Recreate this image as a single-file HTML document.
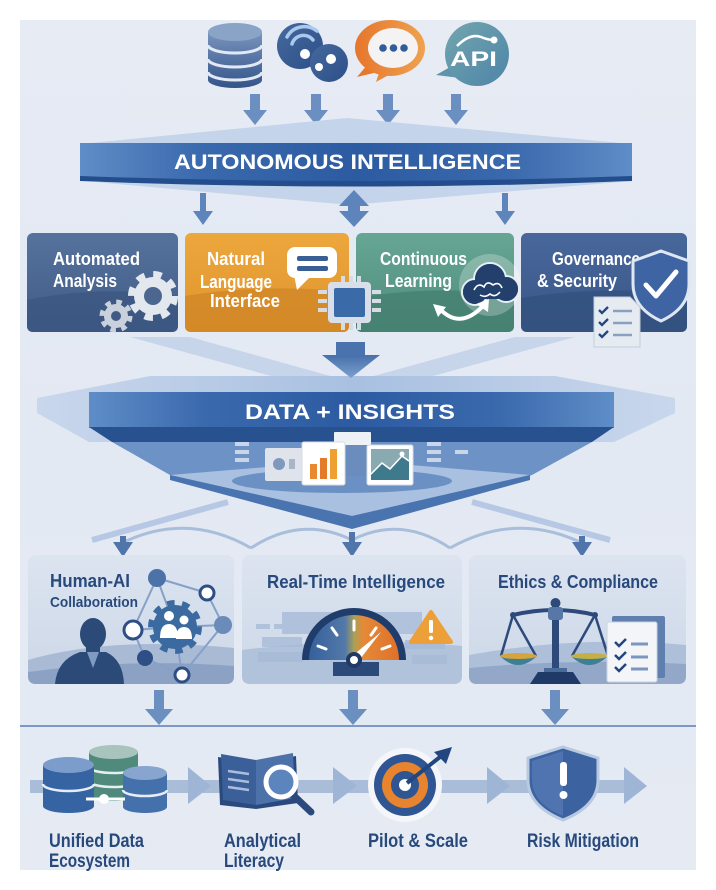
<!DOCTYPE html>
<html><head><meta charset="utf-8"><style>
html,body{margin:0;padding:0;background:#fff;}
svg{display:block;}
text{font-family:"Liberation Sans","DejaVu Sans",sans-serif;}
</style></head><body>
<svg width="716" height="890" viewBox="0 0 716 890" xmlns="http://www.w3.org/2000/svg">
<defs>
<linearGradient id="bg" x1="0" y1="0" x2="0" y2="1"><stop offset="0" stop-color="#e6ebf4"/><stop offset="0.5" stop-color="#e3e9f3"/><stop offset="1" stop-color="#e5eaf3"/></linearGradient>
<linearGradient id="ban" x1="0" y1="0" x2="1" y2="0"><stop offset="0" stop-color="#5f8dc7"/><stop offset="0.22" stop-color="#3a69ad"/><stop offset="0.5" stop-color="#2c5ba2"/><stop offset="0.78" stop-color="#3a69ad"/><stop offset="1" stop-color="#5f8dc7"/></linearGradient>
<linearGradient id="db" x1="0" y1="0" x2="0" y2="1"><stop offset="0" stop-color="#7894bd"/><stop offset="1" stop-color="#34548a"/></linearGradient>
<linearGradient id="wifi" x1="0" y1="0" x2="1" y2="1"><stop offset="0" stop-color="#46699e"/><stop offset="1" stop-color="#2c4f88"/></linearGradient>
<linearGradient id="org" x1="0" y1="0" x2="1" y2="0"><stop offset="0" stop-color="#e6762c"/><stop offset="1" stop-color="#eea250"/></linearGradient>
<linearGradient id="api" x1="0" y1="0" x2="1" y2="1"><stop offset="0" stop-color="#72a6ad"/><stop offset="1" stop-color="#4e84a9"/></linearGradient>
<linearGradient id="c1" x1="0" y1="0" x2="0" y2="1"><stop offset="0" stop-color="#56739d"/><stop offset="1" stop-color="#3f5b86"/></linearGradient>
<linearGradient id="c2" x1="0" y1="0" x2="0" y2="1"><stop offset="0" stop-color="#eca73d"/><stop offset="1" stop-color="#df942c"/></linearGradient>
<linearGradient id="c3" x1="0" y1="0" x2="0" y2="1"><stop offset="0" stop-color="#67a694"/><stop offset="1" stop-color="#4e8c7b"/></linearGradient>
<linearGradient id="c4" x1="0" y1="0" x2="0" y2="1"><stop offset="0" stop-color="#48679b"/><stop offset="1" stop-color="#3a5687"/></linearGradient>
<linearGradient id="lc" x1="0" y1="0" x2="0" y2="1"><stop offset="0" stop-color="#dce4f0"/><stop offset="1" stop-color="#ccd7e7"/></linearGradient>
<linearGradient id="arr" x1="0" y1="0" x2="0" y2="1"><stop offset="0" stop-color="#4670ab"/><stop offset="1" stop-color="#7d9fcd"/></linearGradient>
<linearGradient id="gauge" x1="0" y1="0" x2="1" y2="0"><stop offset="0" stop-color="#36609c"/><stop offset="0.4" stop-color="#5279a9"/><stop offset="0.5" stop-color="#a9a058"/><stop offset="0.6" stop-color="#e48a38"/><stop offset="1" stop-color="#e0702a"/></linearGradient>
<linearGradient id="wing" x1="0" y1="0" x2="1" y2="0"><stop offset="0" stop-color="#c9d7ec"/><stop offset="0.5" stop-color="#a9c0e1"/><stop offset="1" stop-color="#c9d7ec"/></linearGradient>
</defs>

<!-- panel -->
<rect x="20" y="20" width="676" height="850" fill="url(#bg)"/>

<!-- ===== TOP ICONS ===== -->
<!-- database -->
<g>
<path d="M208,32 V80 A27,8 0 0 0 262,80 V32 Z" fill="url(#db)"/>
<ellipse cx="235" cy="32" rx="27" ry="9" fill="#8aa4c8"/>
<path d="M208,45 A27,8 0 0 0 262,45" fill="none" stroke="#e2e9f3" stroke-width="3"/>
<path d="M208,59 A27,8 0 0 0 262,59" fill="none" stroke="#e2e9f3" stroke-width="3"/>
<path d="M208,72 A27,8 0 0 0 262,72" fill="none" stroke="#e2e9f3" stroke-width="3"/>
</g>
<!-- wifi bubble -->
<g>
<circle cx="300" cy="46" r="23" fill="url(#wifi)"/>
<circle cx="329" cy="63" r="19" fill="url(#wifi)"/>
<path d="M292,44 A12,12 0 0 1 313,40" fill="none" stroke="#a9c9ee" stroke-width="3.5" stroke-linecap="round"/>
<path d="M287,37 A20,20 0 0 1 317,31" fill="none" stroke="#a9c9ee" stroke-width="3.5" stroke-linecap="round"/>
<circle cx="305" cy="54" r="5" fill="#fff"/>
<circle cx="331" cy="59" r="5" fill="#fff"/>
<circle cx="319" cy="67" r="4" fill="#fff"/>
</g>
<!-- orange chat -->
<g>
<polygon points="368,64 357,77 382,71" fill="#e6782c"/>
<polygon points="380,70 376,82 394,72" fill="#e98a3a"/>
<ellipse cx="390" cy="48" rx="35" ry="28" fill="url(#org)"/>
<ellipse cx="393" cy="48" rx="25" ry="20" fill="#f5f2f4"/>
<circle cx="383" cy="48" r="3.8" fill="#2f5d9a"/>
<circle cx="393.5" cy="48" r="3.8" fill="#2f5d9a"/>
<circle cx="404" cy="48" r="3.8" fill="#2f5d9a"/>
</g>
<!-- API -->
<g>
<polygon points="452,66 436,75 460,78" fill="#5f93ab"/>
<circle cx="477" cy="54" r="32" fill="url(#api)"/>
<path d="M457,46 Q470,33 481,37 Q488,40 494,40" fill="none" stroke="#fff" stroke-width="2.5"/>
<circle cx="494" cy="40" r="3.5" fill="#fff"/>
<text x="450" y="66" font-size="21" font-weight="bold" fill="#fff" textLength="47" lengthAdjust="spacingAndGlyphs">API</text>
</g>
<!-- top arrows -->
<g fill="#6a8fc0">
<rect x="250" y="94" width="10" height="17"/><polygon points="243,110 267,110 255,125"/>
<rect x="311" y="94" width="10" height="17"/><polygon points="304,110 328,110 316,125"/>
<rect x="383" y="94" width="10" height="17"/><polygon points="376,110 400,110 388,125"/>
<rect x="451" y="94" width="10" height="17"/><polygon points="444,110 468,110 456,125"/>
</g>

<!-- ===== AUTONOMOUS banner ===== -->
<polygon points="80,144 347,118 632,144" fill="#c4d4ea"/>
<polygon points="95,182 620,182 350,205" fill="#c4d4ea"/>
<path d="M80,143 H632 V178 Q356,188 80,178 Z" fill="url(#ban)"/>
<path d="M80,176 Q356,186 632,176 V181 Q356,192 80,181 Z" fill="#234d8c"/>
<text x="174" y="169" font-size="21" font-weight="bold" fill="#fff" textLength="347" lengthAdjust="spacingAndGlyphs">AUTONOMOUS INTELLIGENCE</text>

<!-- arrows below banner -->
<g fill="#5d84bb">
<rect x="200" y="193" width="6" height="20"/><polygon points="193,211 213,211 203,225"/>
<rect x="502" y="193" width="6" height="20"/><polygon points="495,211 515,211 505,225"/>
<polygon points="339,206 369,206 354,190"/>
<rect x="348" y="205" width="12" height="8"/>
<polygon points="339,211 369,211 354,227"/>
</g>

<!-- ===== FOUR CARDS ===== -->
<rect x="27" y="233" width="151" height="99" rx="6" fill="url(#c1)"/>
<path d="M27,300 Q100,285 178,296 V326 Q178,332 172,332 H33 Q27,332 27,326 Z" fill="#3a557f" opacity="0.7"/>
<rect x="185" y="233" width="164" height="99" rx="6" fill="url(#c2)"/>
<path d="M185,296 Q265,283 349,292 V326 Q349,332 343,332 H191 Q185,332 185,326 Z" fill="#cf8525" opacity="0.7"/>
<rect x="356" y="233" width="158" height="99" rx="6" fill="url(#c3)"/>
<path d="M356,298 Q430,285 514,294 V326 Q514,332 508,332 H362 Q356,332 356,326 Z" fill="#437e6e" opacity="0.7"/>
<rect x="521" y="233" width="166" height="99" rx="6" fill="url(#c4)"/>
<path d="M521,298 Q600,285 687,294 V326 Q687,332 681,332 H527 Q521,332 521,326 Z" fill="#32507c" opacity="0.7"/>

<g font-weight="bold" fill="#fff" font-size="18">
<text x="53" y="265" textLength="87" lengthAdjust="spacingAndGlyphs">Automated</text>
<text x="53" y="287" textLength="64" lengthAdjust="spacingAndGlyphs">Analysis</text>
<text x="207" y="265" textLength="58" lengthAdjust="spacingAndGlyphs">Natural</text>
<text x="200" y="288" textLength="72" lengthAdjust="spacingAndGlyphs">Language</text>
<text x="210" y="307" textLength="70" lengthAdjust="spacingAndGlyphs">Interface</text>
<text x="380" y="265" textLength="87" lengthAdjust="spacingAndGlyphs">Continuous</text>
<text x="385" y="287" textLength="67" lengthAdjust="spacingAndGlyphs">Learning</text>
<text x="552" y="265" textLength="88" lengthAdjust="spacingAndGlyphs">Governance</text>
<text x="537" y="287" textLength="80" lengthAdjust="spacingAndGlyphs">&amp; Security</text>
</g>

<!-- gears -->
<g>
<circle cx="153" cy="296" r="19" fill="#e3e8ef"/>
<circle cx="153" cy="296" r="21" fill="none" stroke="#e3e8ef" stroke-width="8" stroke-dasharray="8.25 8.25"/>
<circle cx="153" cy="296" r="9" fill="#4b6790"/>
<circle cx="116" cy="316" r="12" fill="#c9d1dc"/>
<circle cx="116" cy="316" r="13.5" fill="none" stroke="#c9d1dc" stroke-width="6" stroke-dasharray="5.3 5.3"/>
<circle cx="116" cy="316" r="5" fill="#3f5a84"/>
</g>
<!-- speech bubble -->
<g>
<polygon points="294,275 297,290 310,277" fill="#fff"/>
<rect x="287" y="247" width="50" height="31" rx="8" fill="#fff"/>
<rect x="297" y="256" width="31" height="5" rx="2" fill="#3a5f94"/>
<rect x="297" y="266" width="31" height="5" rx="2" fill="#3a5f94"/>
</g>
<!-- chip -->
<g>
<g fill="#d5dce6">
<rect x="318" y="290" width="9" height="4"/><rect x="318" y="299" width="9" height="4"/><rect x="318" y="308" width="9" height="4"/>
<rect x="372" y="290" width="9" height="4"/><rect x="372" y="299" width="9" height="4"/><rect x="372" y="308" width="9" height="4"/>
<rect x="341" y="276" width="4" height="7"/><rect x="349" y="276" width="4" height="7"/><rect x="357" y="276" width="4" height="7"/>
<rect x="341" y="322" width="4" height="8"/><rect x="349" y="322" width="4" height="8"/><rect x="357" y="322" width="4" height="8"/>
</g>
<rect x="328" y="282" width="43" height="41" rx="4" fill="#d9dfe8"/>
<rect x="334" y="288" width="31" height="29" rx="2" fill="#3a6aa8"/>
</g>
<!-- cloud brain -->
<g>
<circle cx="490" cy="285" r="31" fill="#ffffff" opacity="0.25"/>
<g fill="#23406d" stroke="#e6eef6" stroke-width="2">
<circle cx="475" cy="292" r="13"/>
<circle cx="506" cy="289" r="13"/>
<circle cx="490" cy="279" r="16"/>
</g>
<circle cx="475" cy="292" r="12" fill="#23406d"/>
<circle cx="506" cy="289" r="12" fill="#23406d"/>
<circle cx="490" cy="279" r="15" fill="#23406d"/>
<rect x="468" y="285" width="44" height="14" fill="#23406d"/>
<path d="M474,290 q4,-8 10,-3 q3,-7 9,-2 q6,-4 9,3 M480,295 q5,3 10,-1 q5,4 10,-2" fill="none" stroke="#fff" stroke-width="1.6"/>
</g>
<!-- curved arrow -->
<g>
<path d="M440,309 Q460,330 483,306" fill="none" stroke="#fff" stroke-width="4"/>
<polygon points="489,299 476,304 488,312" fill="#fff"/>
<polygon points="433,304 446,307 438,317" fill="#fff"/>
</g>
<!-- shield -->
<g>
<path d="M661,251 L689,261 V284 Q689,308 661,321 Q633,308 633,284 V261 Z" fill="#3e64a3" stroke="#dfe7f3" stroke-width="3"/>
<path d="M646,285 L656,296 L676,272" fill="none" stroke="#fff" stroke-width="5" stroke-linecap="round" stroke-linejoin="round"/>
</g>
<!-- doc -->
<g>
<path d="M594,297 H630 L640,307 V347 H594 Z" fill="#e6ebf2" stroke="#c2ccd9"/>
<g fill="none" stroke="#23467e" stroke-width="2.3">
<path d="M599,310 l3,3 l6,-6"/><path d="M599,322 l3,3 l6,-6"/><path d="M599,334 l3,3 l6,-6"/>
</g>
<g stroke="#8aa0c0" stroke-width="2.5"><line x1="613" y1="311" x2="632" y2="311"/><line x1="613" y1="323" x2="632" y2="323"/><line x1="613" y1="335" x2="632" y2="335"/></g>
</g>

<!-- ===== DATA + INSIGHTS ===== -->
<polygon points="130,337 190,337 352,382 300,384" fill="#c3d3ea" opacity="0.9"/>
<polygon points="575,337 515,337 352,382 404,384" fill="#c3d3ea" opacity="0.9"/>
<polygon points="37,398 150,376 555,376 675,398 675,413 614,442 89,442 37,413" fill="url(#wing)"/>
<rect x="336" y="342" width="29" height="14" fill="#4a73ad"/>
<polygon points="322,355 380,355 351,378" fill="url(#arr)"/>
<rect x="89" y="392" width="525" height="36" fill="url(#ban)"/>
<polygon points="89,427 614,427 592,442 112,442" fill="#28528f"/>
<polygon points="112,442 592,442 532,475 352,528 170,475" fill="#6d92c6"/>
<polygon points="170,475 352,460 530,475 352,516" fill="#a9c0e1"/>
<ellipse cx="342" cy="481" rx="110" ry="12" fill="#5b84bd" opacity="0.8"/>
<polygon points="170,475 352,516 530,475 530,480 352,529 170,480" fill="#4a74b0"/>
<text x="245" y="419" font-size="21" font-weight="bold" fill="#fff" textLength="210" lengthAdjust="spacingAndGlyphs">DATA + INSIGHTS</text>
<!-- dashes -->
<g fill="#c9d6ea">
<rect x="235" y="442" width="14" height="4"/><rect x="235" y="450" width="14" height="4"/><rect x="235" y="458" width="14" height="4"/>
<rect x="427" y="442" width="14" height="4"/><rect x="427" y="450" width="14" height="4"/><rect x="427" y="458" width="14" height="4"/>
<rect x="455" y="450" width="13" height="4"/>
</g>
<!-- dashboard cards -->
<rect x="337" y="444" width="32" height="32" fill="#6a8dbd"/>
<rect x="334" y="432" width="37" height="13" rx="1" fill="#eef2f7"/>
<rect x="265" y="448" width="38" height="33" rx="2" fill="#dfe4ec"/>
<circle cx="279" cy="464" r="6" fill="#7f98bd"/>
<rect x="289" y="459" width="6" height="10" fill="#a9b6c9"/>
<rect x="302" y="442" width="43" height="43" rx="2" fill="#fff" stroke="#d5dce7"/>
<rect x="310" y="464" width="7" height="15" fill="#e8892e"/>
<rect x="320" y="458" width="7" height="21" fill="#e57a2a"/>
<rect x="330" y="449" width="7" height="30" fill="#f0a030"/>
<rect x="367" y="445" width="46" height="40" rx="2" fill="#fff" stroke="#d5dce7"/>
<rect x="371" y="449" width="38" height="31" fill="#8aaab2"/>
<path d="M371,475 L382,464 L390,470 L402,457 L409,462 V480 H371 Z" fill="#3f7a8c"/>
<path d="M371,474 L382,463 L390,469 L402,456 L409,461" fill="none" stroke="#fff" stroke-width="1.5"/>
<circle cx="402" cy="454" r="2.5" fill="#fff"/>

<!-- rays & arcs -->
<line x1="228" y1="502" x2="92" y2="540" stroke="#b6c8e3" stroke-width="6"/>
<line x1="472" y1="502" x2="610" y2="540" stroke="#b6c8e3" stroke-width="6"/>
<g fill="none" stroke="#a9bedb" stroke-width="3">
<path d="M118,545 Q185,510 251,548"/>
<path d="M251,548 Q301,515 352,540"/>
<path d="M352,540 Q401,515 450,548"/>
<path d="M450,548 Q518,510 586,545"/>
</g>
<g fill="#4f75aa">
<polygon points="113,542 133,542 123,557"/><rect x="120" y="536" width="6" height="8"/>
<polygon points="342,542 362,542 352,557"/><rect x="349" y="532" width="6" height="12"/>
<polygon points="572,542 592,542 582,557"/><rect x="579" y="536" width="6" height="8"/>
</g>

<!-- ===== THREE LOWER CARDS ===== -->
<rect x="28" y="555" width="206" height="129" rx="8" fill="url(#lc)"/>
<rect x="242" y="555" width="220" height="129" rx="8" fill="url(#lc)"/>
<rect x="469" y="555" width="217" height="129" rx="8" fill="url(#lc)"/>
<path d="M28,660 Q110,636 234,648 V676 Q234,684 226,684 H36 Q28,684 28,676 Z" fill="#a9bad5"/>
<path d="M28,672 Q130,658 234,666 V676 Q234,684 226,684 H36 Q28,684 28,676 Z" fill="#8ca2c5"/>
<path d="M242,650 Q350,636 462,646 V676 Q462,684 454,684 H250 Q242,684 242,676 Z" fill="#b1c2db"/>
<path d="M469,655 Q580,635 686,645 V676 Q686,684 678,684 H477 Q469,684 469,676 Z" fill="#aebfd9"/>
<path d="M469,668 Q580,658 686,664 V676 Q686,684 678,684 H477 Q469,684 469,676 Z" fill="#93a8c9"/>

<g fill="#28497c" font-weight="bold">
<text x="50" y="587" font-size="18" textLength="80" lengthAdjust="spacingAndGlyphs">Human-AI</text>
<text x="50" y="607" font-size="15" textLength="88" lengthAdjust="spacingAndGlyphs">Collaboration</text>
<text x="267" y="588" font-size="18" textLength="178" lengthAdjust="spacingAndGlyphs">Real-Time Intelligence</text>
<text x="498" y="588" font-size="18" textLength="160" lengthAdjust="spacingAndGlyphs">Ethics &amp; Compliance</text>
</g>

<!-- person -->
<g fill="#2c4a78">
<ellipse cx="93" cy="634" rx="13" ry="16"/>
<rect x="86" y="645" width="14" height="10"/>
<path d="M55,684 Q57,660 80,652 L106,652 Q123,660 124,684 Z"/>
</g>
<polygon points="87,652 99,652 93,668" fill="#7f9bc3"/>
<!-- network -->
<g stroke="#86a0c8" stroke-width="2" fill="none">
<path d="M157,578 L207,593 L223,625 L182,675 L145,658 L133,630 Z"/>
<path d="M157,578 L175,627 M133,630 L175,627 L223,625 M175,627 L182,675"/>
</g>
<circle cx="175" cy="627" r="22" fill="#3a6aa0"/>
<circle cx="175" cy="627" r="24" fill="none" stroke="#3a6aa0" stroke-width="6" stroke-dasharray="7.5 7.5"/>
<g fill="#fff">
<circle cx="169" cy="616" r="5"/><path d="M160,638 Q160,624 169,624 Q178,624 178,638 Z"/>
<circle cx="184" cy="620" r="4.5"/><path d="M176,639 Q176,627 184,627 Q192,627 192,639 Z"/>
</g>
<circle cx="157" cy="578" r="9" fill="#4d72a8"/>
<circle cx="207" cy="593" r="7" fill="#fff" stroke="#2d4f85" stroke-width="3"/>
<circle cx="223" cy="625" r="9" fill="#6b8bba"/>
<circle cx="133" cy="630" r="9" fill="#fff" stroke="#2d4f85" stroke-width="3"/>
<circle cx="145" cy="658" r="8" fill="#2d4f85"/>
<circle cx="182" cy="675" r="7" fill="#fff" stroke="#2d4f85" stroke-width="3"/>

<!-- card2 background blocks -->
<g fill="#a7bbd8" opacity="0.8">
<rect x="282" y="612" width="140" height="22"/>
<rect x="256" y="624" width="14" height="5"/><rect x="274" y="624" width="10" height="5"/>
<rect x="262" y="637" width="40" height="10"/>
<rect x="258" y="652" width="45" height="10"/>
<rect x="405" y="640" width="40" height="9"/>
<rect x="412" y="655" width="35" height="9"/>
</g>
<!-- gauge -->
<rect x="333" y="662" width="46" height="14" fill="#2b4a7a"/>
<path d="M302,660 A52,52 0 0 1 406,660 Z" fill="#203c6b"/>
<path d="M309,660 A45,45 0 0 1 399,660 Z" fill="url(#gauge)"/>
<g stroke="#fff" stroke-width="3" stroke-linecap="round">
<line x1="326" y1="649" x2="318" y2="646"/>
<line x1="337" y1="635" x2="332" y2="628"/>
<line x1="354" y1="630" x2="354" y2="621"/>
<line x1="371" y1="635" x2="376" y2="628"/>
<line x1="382" y1="649" x2="390" y2="646"/>
</g>
<polygon points="381,632 357,663 351,657" fill="#fff"/>
<circle cx="354" cy="660" r="8" fill="#1f3a66"/>
<circle cx="354" cy="660" r="4" fill="#fff"/>
<!-- warning -->
<polygon points="431,612 451,642 411,642" fill="#eda03a" stroke="#eda03a" stroke-width="4" stroke-linejoin="round"/>
<rect x="429" y="620" width="4" height="13" rx="1.5" fill="#fff"/>
<circle cx="431" cy="638" r="2.2" fill="#fff"/>

<!-- scale -->
<g>
<rect x="552" y="606" width="7" height="66" fill="#2d4a7a"/>
<circle cx="555.5" cy="603" r="5" fill="#2d4a7a"/>
<path d="M513,615 Q555,605 595,615" fill="none" stroke="#2d4a7a" stroke-width="4"/>
<circle cx="513" cy="615" r="3" fill="#2d4a7a"/><circle cx="595" cy="615" r="3" fill="#2d4a7a"/>
<rect x="548" y="607" width="15" height="13" rx="3" fill="#5876a6"/>
<g stroke="#2d4a7a" stroke-width="2.5">
<line x1="513" y1="615" x2="501" y2="656"/><line x1="513" y1="615" x2="536" y2="656"/>
<line x1="595" y1="615" x2="572" y2="656"/><line x1="595" y1="615" x2="608" y2="656"/>
</g>
<path d="M500,656 Q518,674 537,656 Z" fill="#3d7f95"/>
<ellipse cx="518.5" cy="656" rx="18.5" ry="3" fill="#d6a43a"/>
<path d="M571,656 Q589,674 608,656 Z" fill="#3d7f95"/>
<ellipse cx="589.5" cy="656" rx="18.5" ry="3" fill="#c5b045"/>
<rect x="544" y="668" width="23" height="5" fill="#4a6a9a"/>
<polygon points="538,672 573,672 581,684 530,684" fill="#1f3a66"/>
</g>
<!-- doc card3 -->
<rect x="612" y="616" width="53" height="62" rx="2" fill="#5f7fae"/>
<rect x="607" y="622" width="50" height="60" rx="2" fill="#f3f5f9" stroke="#c9d3e2"/>
<g fill="none" stroke="#23467e" stroke-width="2.5">
<path d="M615,642 l4,4 l7,-7"/><path d="M615,655 l4,4 l7,-7"/><path d="M615,667 l4,4 l7,-7"/>
</g>
<g stroke="#7d96bd" stroke-width="3"><line x1="631" y1="644" x2="648" y2="644"/><line x1="631" y1="657" x2="648" y2="657"/><line x1="631" y1="669" x2="648" y2="669"/></g>

<!-- arrows to bottom -->
<g fill="#6a8fc0">
<rect x="154" y="690" width="10" height="20"/><polygon points="145,709 173,709 159,725"/>
<rect x="348" y="690" width="10" height="20"/><polygon points="339,709 367,709 353,725"/>
<rect x="550" y="690" width="10" height="20"/><polygon points="541,709 569,709 555,725"/>
</g>
<line x1="20" y1="726" x2="696" y2="726" stroke="#7b99c4" stroke-width="2"/>

<!-- ===== BOTTOM FLOW ===== -->
<rect x="30" y="780" width="600" height="13" fill="#a9bdd9"/>
<g fill="#9fb5d6">
<polygon points="188,767 211,786 188,804"/>
<polygon points="333,767 357,786 333,804"/>
<polygon points="487,767 510,786 487,804"/>
<polygon points="624,767 647,786 624,804"/>
</g>
<!-- db stack -->
<g>
<path d="M89,752 V795 A24.5,6 0 0 0 138,795 V752 Z" fill="#4f8a7c"/>
<ellipse cx="113.5" cy="752" rx="24.5" ry="7" fill="#a9c4bd"/>
<path d="M89,767 A24.5,6 0 0 0 138,767" fill="none" stroke="#e6eef0" stroke-width="2.5"/>
<path d="M89,781 A24.5,6 0 0 0 138,781" fill="none" stroke="#e6eef0" stroke-width="2.5"/>
<path d="M43,765 V806 A25.5,7 0 0 0 94,806 V765 Z" fill="#3664a3"/>
<ellipse cx="68.5" cy="765" rx="25.5" ry="8" fill="#7c9ccc"/>
<path d="M43,784 A25.5,7 0 0 0 94,784" fill="none" stroke="#e6edf6" stroke-width="2.5"/>
<path d="M123,773 V807 A22,6 0 0 0 167,807 V773 Z" fill="#4470ab"/>
<ellipse cx="145" cy="773" rx="22" ry="7" fill="#87a5cf"/>
<path d="M123,790 A22,6 0 0 0 167,790" fill="none" stroke="#e6edf6" stroke-width="2.5"/>
<line x1="86" y1="799" x2="125" y2="799" stroke="#fff" stroke-width="3"/>
<circle cx="104" cy="799" r="5" fill="#fff"/>
</g>
<!-- book -->
<g>
<polygon points="218,757 256,763 256,809 220,805" fill="#2a4a7e"/>
<polygon points="256,763 296,756 298,803 256,809" fill="#2a4a7e"/>
<polygon points="221,754 256,760 256,805 223,800" fill="#3b5f98"/>
<polygon points="256,760 293,753 295,798 256,805" fill="#4d72aa"/>
<g stroke="#a9bedd" stroke-width="2.5"><line x1="228" y1="771" x2="249" y2="774"/><line x1="228" y1="779" x2="249" y2="782"/><line x1="228" y1="787" x2="249" y2="790"/></g>
<line x1="292" y1="794" x2="311" y2="812" stroke="#2a4a7e" stroke-width="7" stroke-linecap="round"/>
<circle cx="281" cy="782" r="15" fill="#5c84bd" stroke="#fff" stroke-width="5"/>
</g>
<!-- target -->
<g>
<circle cx="405" cy="785" r="37" fill="#f4f6fa"/>
<circle cx="405" cy="785" r="31" fill="#2f5592"/>
<circle cx="405" cy="785" r="23" fill="#e8842e"/>
<circle cx="405" cy="785" r="14" fill="#2f5592"/>
<circle cx="405" cy="785" r="6" fill="#fff"/>
<line x1="407" y1="783" x2="440" y2="757" stroke="#23467e" stroke-width="4"/>
<polygon points="434,752 452,747 446,764" fill="#23467e"/>
</g>
<!-- shield -->
<g>
<path d="M563,747 L598,758 V780 Q598,806 563,820 Q528,806 528,780 V758 Z" fill="#3d62a0" stroke="#b8c9e2" stroke-width="3"/>
<path d="M563,751 L563,816 Q532,803 532,780 V761 Z" fill="#4f74b0"/>
<rect x="560" y="762" width="7" height="24" rx="3" fill="#fff"/>
<circle cx="563.5" cy="795" r="4" fill="#fff"/>
</g>

<g fill="#28497c" font-weight="bold" font-size="19">
<text x="49" y="847" textLength="95" lengthAdjust="spacingAndGlyphs">Unified Data</text>
<text x="49" y="867" textLength="81" lengthAdjust="spacingAndGlyphs">Ecosystem</text>
<text x="224" y="847" textLength="77" lengthAdjust="spacingAndGlyphs">Analytical</text>
<text x="224" y="867" textLength="60" lengthAdjust="spacingAndGlyphs">Literacy</text>
<text x="368" y="847" textLength="100" lengthAdjust="spacingAndGlyphs">Pilot &amp; Scale</text>
<text x="527" y="847" textLength="112" lengthAdjust="spacingAndGlyphs">Risk Mitigation</text>
</g>
</svg>
</body></html>
